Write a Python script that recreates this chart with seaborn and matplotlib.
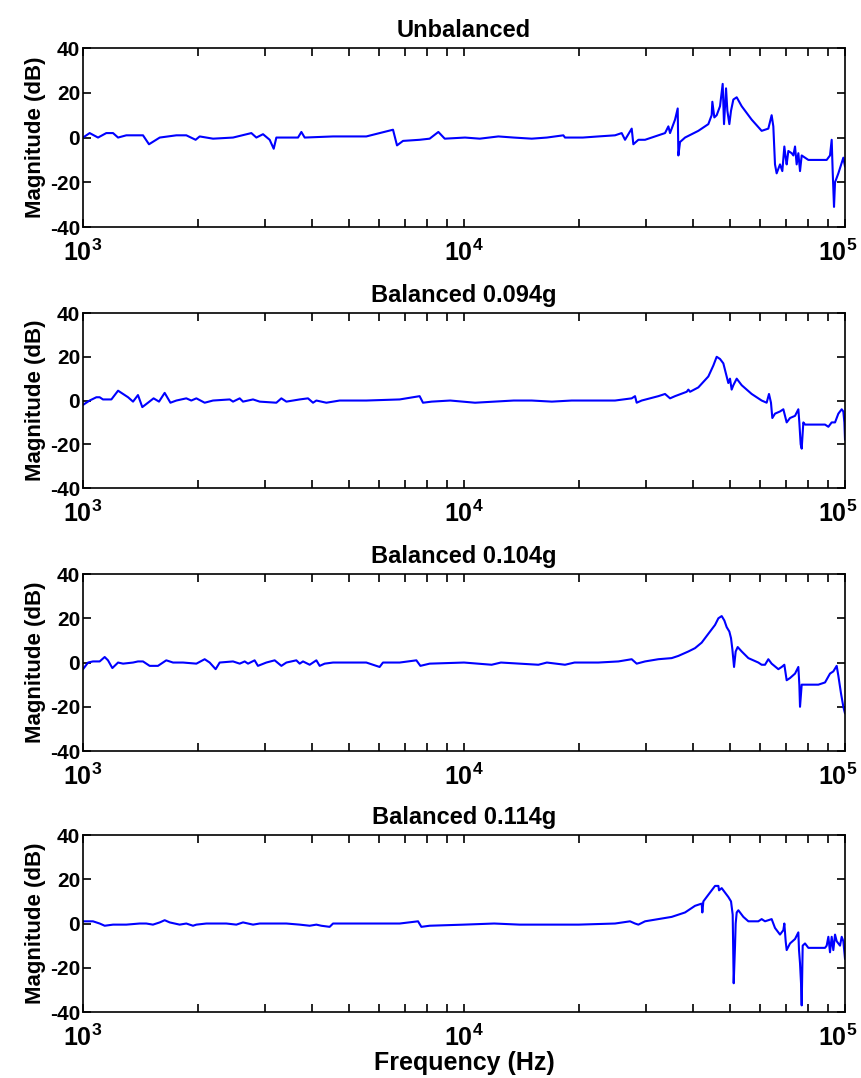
import numpy as np
import pandas as pd
import matplotlib
matplotlib.use("Agg")
import matplotlib.pyplot as plt
import matplotlib.transforms as mtransforms
import seaborn as sns
from matplotlib.ticker import FixedLocator, LogLocator, NullFormatter

# Panel titles
titles = ["Unbalanced", "Balanced 0.094g", "Balanced 0.104g", "Balanced 0.114g"]

# Unbalanced
f_unbal = [1000, 1041, 1095, 1151, 1199, 1236, 1299, 1437, 1490, 1590, 1758, 1867, 1975, 2024,
           2194, 2476, 2766, 2851, 2968, 3090, 3166, 3217, 3667, 3742, 3818, 4531, 5541, 6511,
           6670, 6916, 7647, 8125, 8564, 8900, 10060, 11000, 12307, 13500, 15055, 16500, 18227,
           18410, 20500, 22521, 24909, 25932, 26462, 27550, 27826, 28682, 29862, 31088, 33699,
           34385, 34733, 35797, 36380, 36528, 36896, 38030, 41209, 43778, 44668, 44853, 45396,
           46044, 46980, 47743, 48129, 48720, 49114, 49707, 50212, 50924, 51966, 53557, 56889,
           60423, 62908, 64183, 64837, 65497, 66154, 67508, 68463, 69302, 69863, 70284, 71000,
           72444, 73179, 73925, 74660, 75421, 76189, 76965, 80128, 85114, 89514, 91328, 92257,
           92811, 93563, 94143, 96052, 98992, 100000]
m_unbal = [0, 2, 0, 2, 2, 0, 1, 1, -3, 0, 1, 1, -1, 0.5,
           -0.5, 0, 2, 0, 1.5, -1, -5, 0, 0, 2.5, 0, 0.5, 0.5, 3.5,
           -3.5, -1.5, -1, -0.5, 2.5, -0.5, 0, -0.5, 0.5, 0, -0.5, 0, 1,
           0, 0, 0.5, 1, 2, -1, 4, -3, -1, -1, 0, 2,
           5, 2, 8, 13, -8, -2, 0, 3, 6, 10, 16, 9,
           10, 14, 24, 6, 22, 12, 6, 12, 17, 18, 14, 8,
           3, 4, 10, 5, -12, -16, -12, -15, -4, -9, -12, -6,
           -7, -8, -4, -12, -7, -15, -8, -10, -10, -10, -8, -1,
           -15, -31, -20, -16, -9, -13]

# Balanced 0.094g
f_b094 = [1000, 1041, 1084, 1106, 1128, 1187, 1236, 1274, 1313, 1353, 1394, 1431, 1481, 1532,
          1583, 1638, 1696, 1758, 1867, 1924, 1984, 2086, 2194, 2427, 2476, 2578, 2630, 2794,
          2909, 3217, 3316, 3418, 3704, 3895, 4015, 4097, 4352, 4717, 5541, 6779, 7647, 7804,
          8226, 9200, 10688, 12000, 13500, 15055, 17000, 19167, 21630, 24909, 27550, 28108,
          28393, 29264, 32363, 33699, 34733, 35797, 38409, 38800, 39196, 41209, 43778, 45123,
          46044, 46980, 47933, 48417, 49399, 49902, 50404, 50924, 51966, 53557, 56889, 60423,
          62275, 63159, 63927, 64445, 65497, 67508, 68883, 69584, 70284, 71724, 73925, 75421,
          75876, 76490, 76965, 77732, 78524, 83426, 88619, 90427, 92257, 94143, 96052, 98010,
          98992, 99610, 100000]
m_b094 = [-2, 0, 1.5, 1.5, 0.5, 0.5, 4.5, 3, 1.5, -0.5, 2.5, -3, -1, 1,
          -0.5, 3.5, -1, 0, 1, 0, 1, -1, 0, 0.5, -0.5, 1, -0.5, 0.5,
          -0.5, -1, 1, -0.5, 0.5, 1, -1, 0, -1, 0, 0, 0.5, 2, -1,
          -0.5, 0, -1, -0.5, 0, 0, -0.5, 0, 0, 0, 1, 2,
          -1, 0, 2, 3, 1, 2, 4, 5, 4, 6, 11, 16,
          20, 19, 17, 14, 8, 10, 5, 7, 10, 7, 3, 0,
          -1, 3, -1, -8, -6, -5, -4, -7, -10, -8, -7, -4,
          -10, -20, -22, -10, -11, -11, -11, -12, -10, -10, -6, -4,
          -5, -10, -18]

# Balanced 0.104g
f_b104 = [1000, 1031, 1062, 1106, 1140, 1163, 1194, 1236, 1274, 1353, 1394, 1437, 1496, 1573,
          1654, 1723, 1830, 1984, 2086, 2150, 2229, 2284, 2476, 2578, 2657, 2711, 2821, 2878,
          3028, 3185, 3316, 3418, 3630, 3704, 3779, 3935, 4097, 4180, 4308, 4531, 5541, 6005,
          6127, 6779, 7498, 7682, 8125, 10000, 11816, 12500, 15673, 16500, 18410, 19500, 22521,
          25421, 27550, 28393, 29862, 32363, 35075, 36528, 38800, 40392, 42052, 43778, 45590,
          46517, 47460, 48230, 48911, 49707, 50212, 50620, 51135, 51642, 52277, 53557, 55761,
          59221, 60423, 61660, 62908, 64183, 66834, 68197, 69302, 70284, 71724, 73925, 75421,
          75876, 76189, 76965, 78524, 81752, 85114, 88619, 91328, 93174, 95085, 96052, 97613,
          98992, 100000]
m_b104 = [-3, 0, 0.5, 0.5, 2.5, 1, -2.5, 0, -0.5, 0, 0.5, 0.5, -1.5, -1.5,
          1, 0, 0, -0.5, 1.5, 0, -3, 0, 0.5, -0.5, 0.5, -0.5, 1, -1.5,
          0, 1, -1.5, 0, 1, -0.5, 0.5, -1, 1, -1.5, -0.5, 0, 0, -2,
          0, 0, 1, -1.5, -0.5, 0, -1, 0, -1, 0, -1, 0, 0,
          0.5, 1.5, -0.5, 0.5, 1.5, 2, 3, 5, 6.5, 9, 13, 17,
          20, 21, 19, 16, 14, 11, 6, -2, 5, 7, 5, 2,
          0, -1, -1, 1.5, -0.5, -3, -2, -1, -8, -7, -5, -2,
          -10, -20, -10, -10, -10, -10, -9, -5, -4, -1.5, -6, -14,
          -20, -23]

# Balanced 0.114g
f_b114 = [1000, 1062, 1106, 1140, 1199, 1299, 1408, 1466, 1526, 1590, 1638, 1689, 1793, 1867,
          1944, 1984, 2107, 2378, 2526, 2630, 2794, 2909, 3153, 3418, 3704, 3935, 4097, 4221,
          4440, 4531, 5541, 6779, 7574, 7727, 8125, 10000, 12000, 14000, 16000, 20000, 24909,
          27273, 28108, 28682, 29862, 32363, 35075, 38030, 40392, 42052, 42218, 42481, 43778,
          45590, 46517, 46710, 47460, 48417, 49399, 50212, 50719, 51030, 51442, 51642, 51966,
          52481, 54100, 55761, 59221, 60423, 61660, 64183, 65497, 67508, 68883, 69302, 69863,
          70284, 71724, 73925, 75421, 75725, 76189, 76654, 76965, 77426, 78524, 80128, 83426,
          88619, 89514, 90427, 91328, 92257, 93174, 94143, 95085, 96052, 97030, 98010, 98992,
          100000]
m_b114 = [1, 1, 0, -1, -0.5, -0.5, 0, 0, -0.5, 0.5, 1.5, 0.5, -0.5, 0,
          -1, -0.5, 0, 0, -0.5, 0.5, -0.5, 0, 0, 0, -0.5, -1, -0.5, -1,
          -1.5, 0, 0, 0, 1, -1.5, -1, -0.5, 0, -0.5, -0.5, -0.5, 0,
          1, 0, -0.5, 1, 2, 3, 5, 8, 9, 5, 10, 13,
          17, 17, 15, 16, 14, 12, 10, 4, -27, -10, 0, 5,
          6, 3, 1, 1, 2, 1, 2, -2, -5, -3, 0, -8,
          -12, -9, -7, -4, -12, -18, -27, -37, -10, -9, -11, -11,
          -11, -10, -6, -13, -6, -12, -5, -8, -9, -10, -6, -8,
          -16]

freqs = [f_unbal, f_b094, f_b104, f_b114]
mags = [m_unbal, m_b094, m_b104, m_b114]

sns.set_style("ticks")
plt.rcParams['font.family'] = ['Liberation Sans', 'DejaVu Sans']
plt.rcParams['font.weight'] = 'bold'
plt.rcParams['text.color'] = 'black'
plt.rcParams['axes.labelcolor'] = 'black'
plt.rcParams['xtick.color'] = 'black'
plt.rcParams['ytick.color'] = 'black'
plt.rcParams['axes.unicode_minus'] = False
plt.rcParams['mathtext.fontset'] = 'custom'
plt.rcParams['mathtext.rm'] = 'Liberation Sans:bold'
plt.rcParams['mathtext.bf'] = 'Liberation Sans:bold'

fig = plt.figure(figsize=(8.62, 10.78), dpi=100)
fig.patch.set_facecolor('white')

# axes boxes [left, bottom, width, height] in figure fractions
boxes = [[0.0963, 0.7894, 0.884, 0.166],
         [0.0963, 0.5473, 0.884, 0.1623],
         [0.0963, 0.3033, 0.884, 0.1642],
         [0.0963, 0.0612, 0.884, 0.1642]]

# nudge the last decade label so it stays inside the figure
nudge = mtransforms.ScaledTranslation(-5 / 72, 0, fig.dpi_scale_trans)

for i in range(4):
    ax = fig.add_axes(boxes[i])
    df = pd.DataFrame({'freq': freqs[i], 'mag': mags[i]})
    sns.lineplot(data=df, x='freq', y='mag', ax=ax, color=(0, 0, 1),
                 linewidth=1.5, estimator=None, sort=False)
    ax.set_xscale('log')
    ax.set_xlim(1e3, 1e5)
    ax.set_ylim(-40, 40)
    ax.set_yticks([-40, -20, 0, 20, 40])
    ax.set_yticklabels(['-40', '-20', '0', '20', '40'])
    ax.xaxis.set_major_locator(FixedLocator([1e3, 1e4, 1e5]))
    ax.set_xticklabels([r'$10^{3}$', r'$10^{4}$', r'$10^{5}$'], fontsize=18)
    ax.xaxis.set_minor_locator(LogLocator(base=10, subs=np.arange(2, 10)))
    ax.xaxis.set_minor_formatter(NullFormatter())
    ax.tick_params(axis='both', which='both', direction='in', top=True, right=True,
                   width=1.2, colors='black')
    ax.tick_params(axis='both', which='major', length=6)
    ax.tick_params(axis='x', which='minor', length=6)
    ax.tick_params(axis='y', labelsize=15, pad=2)
    ax.tick_params(axis='x', pad=9)
    last = ax.get_xticklabels()[-1]
    last.set_transform(last.get_transform() + nudge)
    for s in ax.spines.values():
        s.set_linewidth(1.2)
        s.set_color('black')
    ax.set_xlabel('')
    ax.set_ylabel('Magnitude (dB)', fontsize=16, fontweight='bold', labelpad=3)
    ax.set_title(titles[i], fontsize=17, fontweight='bold', pad=8, color='black')

ax.set_xlabel('Frequency (Hz)', fontsize=18, fontweight='bold', labelpad=0)

fig.savefig('out.png', dpi=100, facecolor='white')
